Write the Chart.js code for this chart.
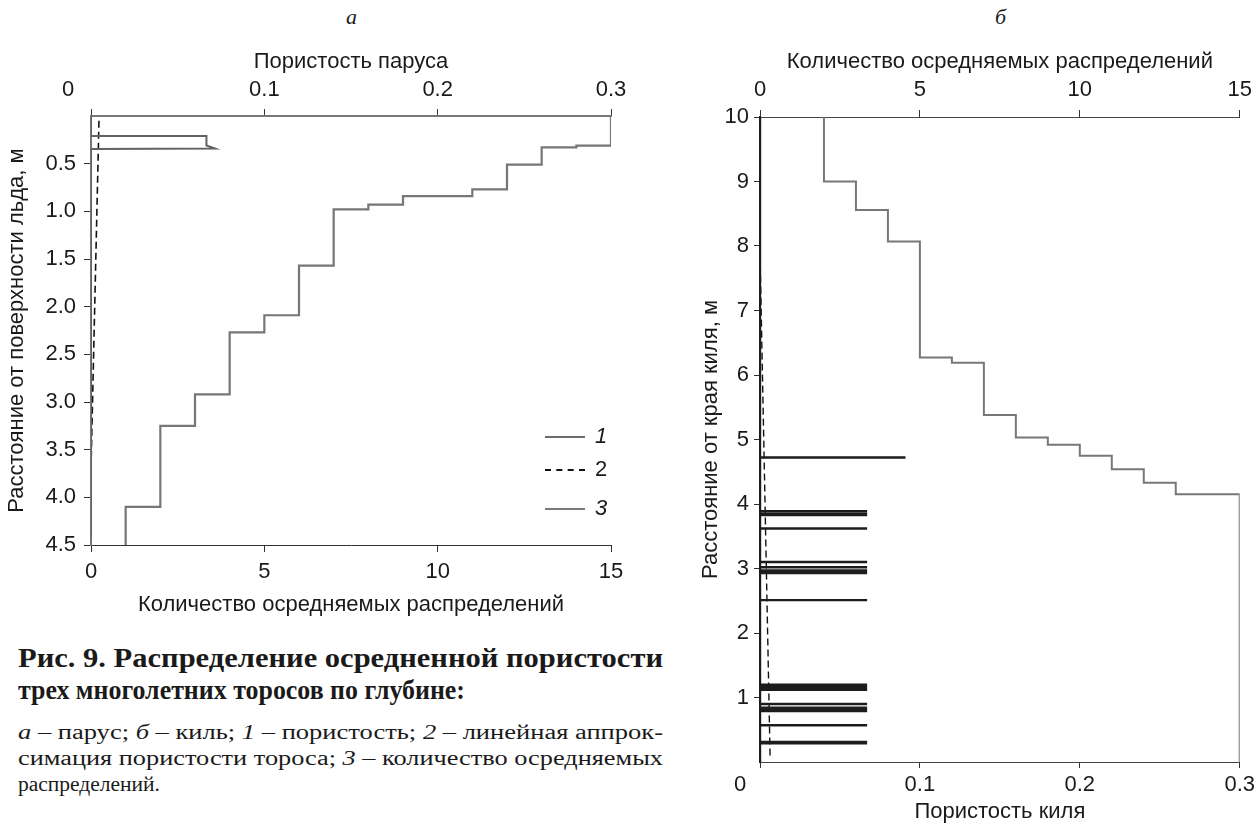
<!DOCTYPE html>
<html lang="ru">
<head>
<meta charset="utf-8">
<title>Рис. 9. Распределение осредненной пористости</title>
<script src="https://cdn.jsdelivr.net/npm/chart.js@4.4.1/dist/chart.umd.min.js"></script>
<style>
  html, body { margin: 0; padding: 0; background: #fff; }
  body { width: 1259px; height: 825px; position: relative; overflow: hidden; color: #1a1a1a;
         font-family: "Liberation Sans", Arial, sans-serif; }
  canvas { position: absolute; }
  #sail { left: 0; top: 40px; }
  #keel { left: 680px; top: 40px; }
  .letter { position: absolute; top: 4px; font-family: "Liberation Serif", serif; font-style: italic; font-size: 22px; }
  .leg { position: absolute; left: 545px; width: 40px; height: 0; }
  .leg-n { position: absolute; left: 595px; font-size: 22px; line-height: 24px; }
  .cap { position: absolute; left: 18px; white-space: nowrap; font-family: "Liberation Serif", serif; transform-origin: 0 50%; }
  .cap.b { font-weight: bold; font-size: 27px; line-height: 30px; }
  .cap.r { font-size: 20px; line-height: 26px; }
  i { font-style: italic; }
</style>
</head>
<body>

<div class="letter" style="left:346px">а</div>
<div class="letter" style="left:995px">б</div>

<canvas id="sail" width="640" height="578"></canvas>
<canvas id="keel" width="579" height="785"></canvas>

<!-- legend of the sail panel -->
<div class="leg" style="top:436px; border-top:2px solid #6b6b6b"></div>
<div class="leg" style="top:469px; border-top:2px dashed #111"></div>
<div class="leg" style="top:508px; border-top:2px solid #7a7a7a"></div>
<div class="leg-n" style="top:424px"><i>1</i></div>
<div class="leg-n" style="top:457px">2</div>
<div class="leg-n" style="top:496px"><i>3</i></div>

<div class="cap b fit" data-w="645" style="top:643px">Рис. 9. Распределение осредненной пористости</div>
<div class="cap b fit" data-w="447" style="top:675px">трех многолетних торосов по глубине:</div>
<div class="cap r fit" data-w="645" style="top:719px"><i>а</i> – парус; <i>б</i> – киль; <i>1</i> – пористость; <i>2</i> – линейная аппрок-</div>
<div class="cap r fit" data-w="645" style="top:745px">симация пористости тороса; <i>3</i> – количество осредняемых</div>
<div class="cap r fit" data-w="142" style="top:771px">распределений.</div>

<script>
// sail: number of averaged distributions, one value per depth interval
var sailCounts   = [15, 14, 13, 12, 11, 9, 8, 7, 6, 5, 4, 3, 2, 1];
var sailCountTop = [0, 0.31, 0.33, 0.51, 0.77, 0.84, 0.93, 0.98, 1.57, 2.09, 2.27, 2.92, 3.25, 4.10];
var sailCountBot = [0.31, 0.33, 0.51, 0.77, 0.84, 0.93, 0.98, 1.57, 2.09, 2.27, 2.92, 3.25, 4.10, 4.50];

// sail porosity profile
var sailPor      = [0, 0, 0.0666, 0.0666, 0.0714, 0, 0];
var sailPorDepth = [0, 0.21, 0.21, 0.31, 0.34, 0.345, 4.42];

// sail linear fit
var sailFit      = [0.0046, 0];
var sailFitDepth = [0.05, 3.7];

// keel: number of averaged distributions
var keelCounts   = [2, 3, 4, 5, 6, 7, 8, 9, 10, 11, 12, 13, 15];
var keelCountTop = [10, 9.0, 8.56, 8.07, 6.27, 6.19, 5.38, 5.03, 4.92, 4.75, 4.54, 4.33, 4.15];
var keelCountBot = [9.0, 8.56, 8.07, 6.27, 6.19, 5.38, 5.03, 4.92, 4.75, 4.54, 4.33, 4.15, 0];

// keel porosity: thin layers with non-zero porosity
var keelLayerDepth = [4.72, 3.89, 3.85, 3.83, 3.62, 3.10, 3.02, 2.97, 2.95, 2.93, 2.51,
                      1.20, 1.17, 1.14, 1.12, 0.90, 0.84, 0.81, 0.79, 0.57, 0.31, 0.29];
var keelLayerPor   = [0.091, 0.067, 0.067, 0.067, 0.067, 0.067, 0.067, 0.067, 0.067, 0.067, 0.067,
                      0.067, 0.067, 0.067, 0.067, 0.067, 0.067, 0.067, 0.067, 0.067, 0.067, 0.067];

// keel linear fit
var keelFit      = [0.0063, 0];
var keelFitDepth = [0.1, 7.9];

var countTicks    = [0, 5, 10, 15];
var porosityTicks = [0, 0.1, 0.2, 0.3];

Chart.defaults.font.family = '"Liberation Sans", Arial, sans-serif';
Chart.defaults.font.size = 22;
Chart.defaults.color = '#1a1a1a';

function steps(values, tops, bots) {
	var pts = [];
	for (var i = 0; i < values.length; i++) {
		pts.push({x: values[i], y: tops[i]});
		pts.push({x: values[i], y: bots[i]});
	}
	return pts;
}

function pairs(xs, ys) {
	return xs.map(function(v, i) { return {x: v, y: ys[i]}; });
}

function layers(depths, values, top, bottom) {
	var pts = [{x: 0, y: top}];
	depths.forEach(function(d, i) {
		pts.push({x: 0, y: d});
		pts.push({x: values[i], y: d});
		pts.push({x: 0, y: d});
	});
	pts.push({x: 0, y: bottom});
	return pts;
}

function fixedTicks(list) {
	return function(scale) {
		scale.ticks = list.map(function(v) { return {value: v}; });
	};
}

function porLabel(v) {
	return v === 0 ? '' : String(+v.toFixed(1));
}

// the zero of a porosity axis is printed a little to the left of its tick
var shiftedZero = {
	id: 'shiftedZero',
	afterDraw: function(chart, args, opts) {
		var s = chart.scales[opts.axis];
		var ctx = chart.ctx;
		ctx.save();
		ctx.font = '22px "Liberation Sans", Arial, sans-serif';
		ctx.fillStyle = '#1a1a1a';
		ctx.textAlign = 'center';
		ctx.textBaseline = 'middle';
		ctx.fillText('0', s.getPixelForValue(0) - opts.shift, opts.y);
		ctx.restore();
	}
};

function line(data, axis, color, width, dash) {
	return {
		data: data,
		xAxisID: axis,
		borderColor: color,
		borderWidth: width,
		borderDash: dash || [],
		showLine: true,
		pointRadius: 0,
		fill: false,
		tension: 0
	};
}

function hAxis(pos, min, max, ticks, cb, title, size, tickLen, pad, tpad, border) {
	return {
		type: 'linear',
		position: pos,
		min: min,
		max: max,
		afterBuildTicks: fixedTicks(ticks),
		afterFit: function(s) { s.height = size; },
		ticks: {callback: cb, padding: pad, maxRotation: 0, autoSkip: false},
		grid: {drawOnChartArea: false, tickLength: tickLen, color: '#333', lineWidth: 1},
		border: border,
		title: {display: true, text: title, padding: tpad}
	};
}

// sail panel
new Chart(document.getElementById('sail'), {
	type: 'scatter',
	data: {
		datasets: [
			line(pairs(sailPor, sailPorDepth), 'xp', '#626262', 2),
			line(pairs(sailFit, sailFitDepth), 'xp', '#111', 1.6, [7, 4]),
			line(steps(sailCounts, sailCountTop, sailCountBot), 'xc', '#767676', 2.2)
		]
	},
	options: {
		responsive: false,
		animation: false,
		layout: {padding: {right: 29}},
		plugins: {legend: {display: false}, tooltip: {enabled: false},
			shiftedZero: {axis: 'xp', shift: 23, y: 50}},
		scales: {
			xc: hAxis('bottom', 0, 15, countTicks, function(v) { return v; },
				'Количество осредняемых распределений', 73, 7, 7, {top: 0, bottom: 0},
				{display: true, color: '#333', width: 1}),
			xp: hAxis('top', 0, 0.3, porosityTicks, porLabel,
				'Пористость паруса', 76, 7, 6, {top: 9, bottom: 0},
				{display: true, color: '#777', width: 2}),
			y: {
				type: 'linear',
				reverse: true,
				min: 0,
				max: 4.5,
				afterBuildTicks: fixedTicks([0.5, 1, 1.5, 2, 2.5, 3, 3.5, 4, 4.5]),
				afterFit: function(s) { s.width = 91; },
				ticks: {callback: function(v) { return v.toFixed(1); }, padding: 8},
				grid: {drawOnChartArea: false, tickLength: 7, color: '#333'},
				border: {display: true, color: '#777', width: 2},
				title: {display: true, text: 'Расстояние от поверхности льда, м', padding: {top: 4, bottom: 0}}
			}
		}
	},
	plugins: [shiftedZero]
});

// keel panel
new Chart(document.getElementById('keel'), {
	type: 'scatter',
	data: {
		datasets: [
			line(layers(keelLayerDepth, keelLayerPor, 10, 0), 'xp', '#1c1c1c', 2.4),
			line(pairs(keelFit, keelFitDepth), 'xp', '#111', 1.4, [7, 4]),
			line(steps(keelCounts, keelCountTop, keelCountBot), 'xc', '#777', 2)
		]
	},
	options: {
		responsive: false,
		animation: false,
		layout: {padding: {right: 19}},
		plugins: {legend: {display: false}, tooltip: {enabled: false},
			shiftedZero: {axis: 'xp', shift: 20, y: 745}},
		scales: {
			xc: hAxis('top', 0, 15, countTicks, function(v) { return v; },
				'Количество осредняемых распределений', 77, 7, 7, {top: 9, bottom: 0},
				{display: true, color: '#444', width: 1}),
			xp: hAxis('bottom', 0, 0.3, porosityTicks, porLabel,
				'Пористость киля', 63, 6, 4, {top: 0, bottom: 0},
				{display: true, color: '#444', width: 1}),
			y: {
				type: 'linear',
				min: 0,
				max: 10,
				afterBuildTicks: fixedTicks([1, 2, 3, 4, 5, 6, 7, 8, 9, 10]),
				afterFit: function(s) { s.width = 80; },
				ticks: {padding: 5},
				grid: {drawOnChartArea: false, tickLength: 6, color: '#333'},
				border: {display: true, color: '#1c1c1c', width: 2},
				title: {display: true, text: 'Расстояние от края киля, м', padding: {top: 18, bottom: 0}}
			}
		}
	},
	plugins: [shiftedZero]
});

// caption lines are stretched or squeezed to their column width
document.querySelectorAll('.fit').forEach(function(el) {
	var w = +el.getAttribute('data-w');
	var k = w / el.getBoundingClientRect().width;
	el.style.transform = 'scaleX(' + k + ')';
});
</script>
</body>
</html>
